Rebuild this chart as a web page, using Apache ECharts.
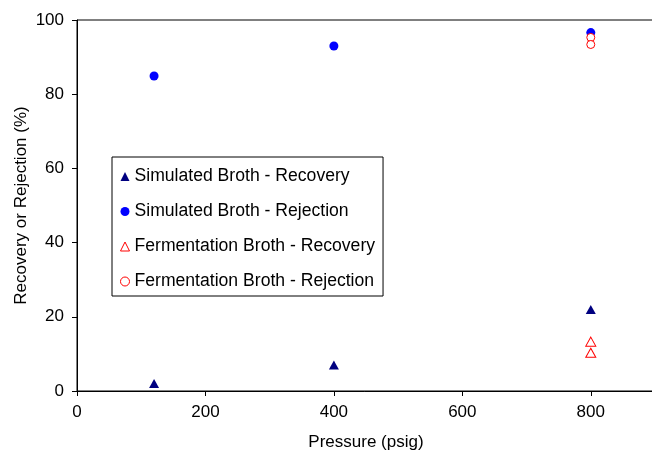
<!DOCTYPE html>
<html><head><meta charset="utf-8">
<script src="https://cdn.jsdelivr.net/npm/echarts@6/dist/echarts.min.js"></script>
<style>html,body{margin:0;padding:0;background:#fff}#c{width:652px;height:452px}</style>
</head><body><div id="c"></div>
<script>
const simRecovery = [[120, 2.0], [400, 7.0], [800, 22.0]];
const simRejection = [[120, 84.9], [400, 93.0], [800, 96.6]];
const fermRecovery = [[800, 13.3], [800, 10.3]];
const fermRejection = [[800, 95.3], [800, 93.4]];
const seriesNames = ['Simulated Broth - Recovery', 'Simulated Broth - Rejection', 'Fermentation Broth - Recovery', 'Fermentation Broth - Rejection'];
const xTitle = 'Pressure (psig)';
const yTitle = 'Recovery or Rejection (%)';

const font = 'Liberation Sans, Arial, sans-serif';
const chart = echarts.init(document.getElementById('c'));
chart.setOption({
  animation: false,
  backgroundColor: '#fff',
  grid: { left: 77, width: 578, top: 20, height: 371, show: true, borderColor: '#000', borderWidth: 1,
          containLabel: false, outerBoundsMode: 'none' },
  xAxis: {
    type: 'value', min: 0, max: 900, interval: 200,
    name: xTitle, nameLocation: 'middle', nameGap: 43, nameMoveOverlap: false,
    nameTextStyle: { fontFamily: font, fontSize: 17, color: '#000' },
    axisLine: { onZero: false, lineStyle: { color: '#000', width: 1 } },
    axisTick: { length: 5, lineStyle: { color: '#000' } },
    axisLabel: { fontFamily: font, fontSize: 17, color: '#000', margin: 13,
      formatter: v => (v % 200 === 0 && v <= 800) ? v : '' },
    splitLine: { show: false }
  },
  yAxis: {
    type: 'value', min: 0, max: 100, interval: 20,
    name: yTitle, nameLocation: 'middle', nameGap: 47, nameMoveOverlap: false,
    nameTextStyle: { fontFamily: font, fontSize: 17, color: '#000' },
    axisLine: { show: true, lineStyle: { color: '#000', width: 1 } },
    axisTick: { show: true, length: 5, lineStyle: { color: '#000' } },
    axisLabel: { fontFamily: font, fontSize: 17, color: '#000', margin: 13 },
    splitLine: { show: false }
  },
  legend: {
    orient: 'vertical', left: 112, top: 157,
    borderColor: '#000', borderWidth: 1,
    padding: [10, 8, 5, 8],
    itemGap: 16, itemWidth: 9, itemHeight: 9,
    textStyle: { fontFamily: font, fontSize: 17.6, color: '#000', lineHeight: 19 },
    data: [
      { name: seriesNames[0], icon: 'triangle', itemStyle: { color: '#000080', borderWidth: 0 } },
      { name: seriesNames[1], icon: 'circle', itemStyle: { color: '#0000ff', borderWidth: 0 } },
      { name: seriesNames[2], icon: 'triangle', itemStyle: { color: '#fff', borderColor: '#ff0000', borderWidth: 1 } },
      { name: seriesNames[3], icon: 'circle', itemStyle: { color: '#fff', borderColor: '#ff0000', borderWidth: 1 } }
    ]
  },
  series: [
    { name: seriesNames[0], type: 'scatter', data: simRecovery, symbol: 'triangle', symbolSize: [10, 9],
      itemStyle: { color: '#000080', opacity: 1 } },
    { name: seriesNames[1], type: 'scatter', data: simRejection, symbol: 'circle', symbolSize: 9,
      itemStyle: { color: '#0000ff', opacity: 1 } },
    { name: seriesNames[2], type: 'scatter', data: fermRecovery, symbol: 'triangle', symbolSize: [10, 9],
      itemStyle: { color: '#fff', borderColor: '#ff0000', borderWidth: 1, opacity: 1 } },
    { name: seriesNames[3], type: 'scatter', data: fermRejection, symbol: 'circle', symbolSize: 8,
      itemStyle: { color: '#fff', borderColor: '#ff0000', borderWidth: 1, opacity: 1 } }
  ]
});
</script></body></html>
